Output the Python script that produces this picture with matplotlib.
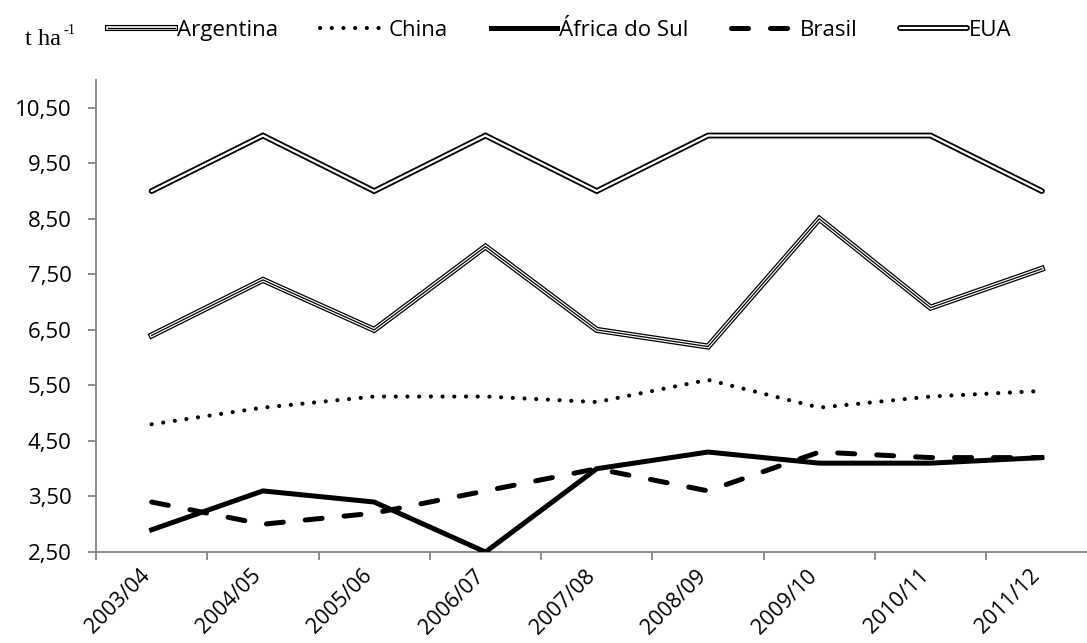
import numpy as np
import matplotlib
matplotlib.use('Agg')
import matplotlib.pyplot as plt
import matplotlib.patheffects as pe
import matplotlib.transforms as mtransforms

# dados (t/ha)
safras = ['2003/04', '2004/05', '2005/06', '2006/07', '2007/08',
          '2008/09', '2009/10', '2010/11', '2011/12']
argentina = [6.4, 7.4, 6.5, 8.0, 6.5, 6.2, 8.5, 6.9, 7.6]
china = [4.8, 5.1, 5.3, 5.3, 5.2, 5.6, 5.1, 5.3, 5.4]
africa_sul = [2.9, 3.6, 3.4, 2.5, 4.0, 4.3, 4.1, 4.1, 4.2]
brasil = [3.4, 3.0, 3.2, 3.6, 4.0, 3.6, 4.3, 4.2, 4.2]
eua = [9.0, 10.0, 9.0, 10.0, 9.0, 10.0, 10.0, 10.0, 9.0]
yticks = [2.5, 3.5, 4.5, 5.5, 6.5, 7.5, 8.5, 9.5, 10.5]

plt.rcParams['font.family'] = ['Open Sans', 'DejaVu Sans']

W, H = 1087, 643
fig = plt.figure(figsize=(W / 100, H / 100), dpi=100)
ax = fig.add_axes([96 / W, 91 / H, (1097.5 - 96) / W, 472 / H])

x = np.arange(len(safras))

ax.plot(x, eua, color='white', lw=1.6, label='EUA', zorder=3,
        solid_joinstyle='miter', solid_capstyle='round',
        path_effects=[pe.Stroke(linewidth=4.2, foreground='black'), pe.Normal()])
ax.plot(x, argentina, color='black', lw=0.9, label='Argentina', zorder=3,
        solid_joinstyle='miter',
        path_effects=[pe.Stroke(linewidth=4.4, foreground='black'),
                      pe.Stroke(linewidth=2.6, foreground='white'), pe.Normal()])
ax.plot(x, china, color='black', lw=3.0, dashes=(0.01, 2.8),
        dash_capstyle='round', label='China', zorder=3)
ax.plot(x, africa_sul, color='black', lw=3.6, label='África do Sul', zorder=4,
        solid_joinstyle='miter')
ax.plot(x, brasil, color='black', lw=3.6, dashes=(3.4, 4.4),
        dash_capstyle='round', label='Brasil', zorder=4)

ax.set_xlim(-0.5, len(safras) - 0.5)
ax.set_ylim(2.5, 11.0)

ax.set_yticks(yticks)
ax.set_yticklabels([f'{v:.2f}'.replace('.', ',') for v in yticks])
ax.set_xticks(np.arange(len(safras) + 1) - 0.5)
ax.set_xticklabels([])
ax.set_xticks(x, minor=True)
ax.set_xticklabels(safras, minor=True, rotation=45, ha='right',
                   va='center', rotation_mode='anchor')

for s in ['top', 'right']:
    ax.spines[s].set_visible(False)
for s in ['left', 'bottom']:
    ax.spines[s].set_color('#8c8c8c')
    ax.spines[s].set_linewidth(1.4)

ax.tick_params(axis='both', which='major', direction='out', length=5.5,
               width=1.4, color='#8c8c8c', labelsize=16)
ax.tick_params(axis='y', pad=12)
ax.tick_params(axis='x', which='minor', length=0, pad=15, labelsize=15.5)

# desloca os rótulos do eixo x um pouco para a esquerda
shift = mtransforms.ScaledTranslation(-5 / 100, 0, fig.dpi_scale_trans)
for lab in ax.get_xticklabels(minor=True):
    lab.set_transform(lab.get_transform() + shift)

# legenda
order = ['Argentina', 'China', 'África do Sul', 'Brasil', 'EUA']
hs, ls = ax.get_legend_handles_labels()
lookup = dict(zip(ls, hs))
fig.legend([lookup[k] for k in order], order, loc='upper left',
           bbox_to_anchor=(108 / W, 1 - 20 / H), ncol=5, frameon=False,
           fontsize=16, handlelength=3.0, handletextpad=0.1,
           columnspacing=1.9, borderpad=0, borderaxespad=0)

fig.text(25 / W, 1 - 45 / H, 't ha', family='Liberation Serif', fontsize=17.5,
         ha='left', va='baseline')
fig.text(64 / W, 1 - 34 / H, '-1', family='Liberation Serif', fontsize=10.5,
         ha='left', va='baseline')

fig.savefig('out.png', dpi=100)
